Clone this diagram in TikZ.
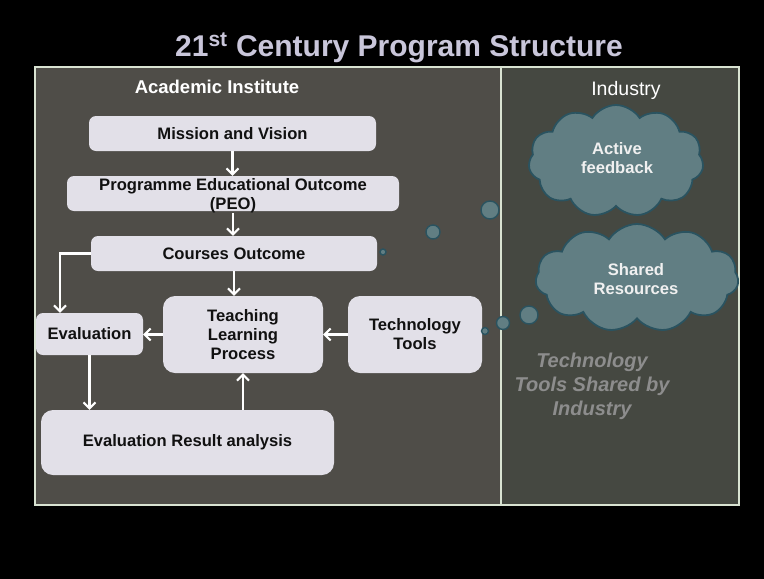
\documentclass[tikz,border=0pt]{standalone}
\usepackage{fontspec}
\setmainfont{Liberation Sans}
\usetikzlibrary{arrows.meta,shapes.symbols}

\definecolor{leftpanel}{HTML}{4F4D48}
\definecolor{rightpanel}{HTML}{454841}
\definecolor{framecol}{HTML}{D9E3D2}
\definecolor{boxfill}{HTML}{E2E0E8}
\definecolor{boxtext}{HTML}{111111}
\definecolor{titlecol}{HTML}{C9C6DA}
\definecolor{cloudfill}{HTML}{617E83}
\definecolor{cloudedge}{HTML}{2A5360}
\definecolor{notecol}{HTML}{8D8D8D}

\tikzset{
  procbox/.style={rounded corners=7pt, fill=boxfill, text=boxtext, align=center,
    inner sep=0pt, font=\bfseries\fontsize{16.6}{19}\selectfont},
  bigbox/.style={procbox, rounded corners=12pt},
  boxlabel/.style={text=boxtext, align=center, inner sep=0pt,
    font=\bfseries\fontsize{16.6}{19}\selectfont},
  flow/.style={draw=white, line width=2.2pt,
    -{Straight Barb[length=6pt,width=12pt,line width=2pt]}},
  cloudnode/.style={cloud, cloud puffs=11, cloud puff arc=115, cloud ignores aspect,
    fill=cloudfill, draw=cloudedge, line width=1.8pt, inner sep=0pt},
  cloudlabel/.style={text=white!94!black, align=center, inner sep=0pt,
    font=\bfseries\fontsize{16.6}{19}\selectfont},
  bubble/.style={circle, fill=cloudfill, draw=cloudedge, line width=1.4pt, inner sep=0pt},
}

\begin{document}
\begin{tikzpicture}[x=1pt,y=-1pt]
  % slide background and fixed page size
  \fill[black] (0,0) rectangle (764,579);
  \useasboundingbox (0,0) rectangle (764,579);

  % title
  \node[anchor=base, text=titlecol, font=\bfseries\fontsize{30}{36}\selectfont]
    (title) at (399,56) {21\textsuperscript{st} Century Program Structure};

  % the two panels and their frame
  \fill[leftpanel] (35,67) rectangle (501,505);
  \fill[rightpanel] (501,67) rectangle (739,505);
  \draw[framecol, line width=1.8pt] (35,67) rectangle (739,505);
  \draw[framecol, line width=1.5pt] (501,67) -- (501,505);

  % panel headings
  \node[anchor=base, text=white, font=\bfseries\fontsize{18.5}{22}\selectfont]
    (acad) at (217,93) {Academic Institute};
  \node[anchor=base, text=white, font=\fontsize{19.5}{22}\selectfont]
    (ind) at (626,95) {Industry};

  % process boxes
  \node[procbox, minimum width=287pt, minimum height=35pt] (mission) at (232.5,133.5) {Mission and Vision};
  \node[procbox, minimum width=332pt, minimum height=35pt] (peo) at (233,193.5) {};
  \node[boxlabel] (peotext) at (233,196) {Programme Educational Outcome\\(PEO)};
  \node[procbox, minimum width=286pt, minimum height=35pt] (courses) at (234,253.5) {Courses Outcome};
  \node[bigbox, minimum width=160pt, minimum height=77pt] (teach) at (243,334.5) {Teaching\\Learning\\Process};
  \node[bigbox, minimum width=134pt, minimum height=77pt] (tech) at (415,334.5) {Technology\\Tools};
  \node[procbox, minimum width=107pt, minimum height=42pt] (eval) at (89.5,334) {Evaluation};
  \node[bigbox, minimum width=293pt, minimum height=65pt] (result) at (187.5,442.5) {Evaluation Result analysis};

  % connectors
  \draw[flow] (mission.south) -- (mission.south |- peo.north);
  \draw[flow] (peotext.south) -- (peotext.south |- courses.north);
  \draw[flow] (courses.south) -- (courses.south |- teach.north);
  \draw[flow] (courses.west) -| ([xshift=-29.5pt]eval.north);
  \draw[flow] (teach.west) -- (teach.west -| eval.east);
  \draw[flow] (tech.west) -- (tech.west -| teach.east);
  \draw[flow] (eval.south) -- (eval.south |- result.north);
  \draw[flow] (teach.south |- result.north) -- (teach.south);

  % thought bubbles leading into the industry side
  \node[bubble, minimum size=6pt]  (b1) at (383,252) {};
  \node[bubble, minimum size=14pt] (b2) at (433,232) {};
  \node[bubble, minimum size=18pt] (b3) at (490,210) {};
  \node[bubble, minimum size=7pt]  (b4) at (485,331) {};
  \node[bubble, minimum size=13pt] (b5) at (503,323) {};
  \node[bubble, minimum size=18pt] (b6) at (529,315) {};

  % clouds with their labels
  \node[cloudnode, minimum width=175pt, minimum height=112pt] (fb) at (616,161) {};
  \node[cloudlabel] (fbtext) at (617,158) {Active\\feedback};
  \node[cloudnode, minimum width=203pt, minimum height=108pt] (shared) at (637,278) {};
  \node[cloudlabel] (sharedtext) at (636,279) {Shared\\Resources};

  % caption on the industry side
  \node[text=notecol, align=center, font=\bfseries\itshape\fontsize{20}{24}\selectfont]
    (note) at (592,386) {Technology\\Tools Shared by\\Industry};
\end{tikzpicture}
\end{document}
